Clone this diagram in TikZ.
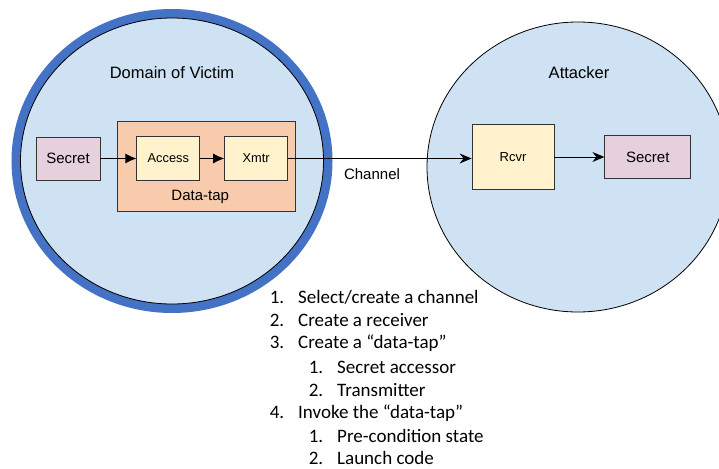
\documentclass[tikz,border=0pt]{standalone}
\usepackage{fontspec}
\setmainfont{Liberation Sans}
\newfontfamily\listfont{Carlito}
\usetikzlibrary{positioning,arrows.meta}

\definecolor{domainblue}{HTML}{CFE2F3}
\definecolor{ringblue}{HTML}{4472C4}
\definecolor{secretpink}{HTML}{E6D0DE}
\definecolor{tappeach}{HTML}{F8CBAD}
\definecolor{partyellow}{HTML}{FFF2CC}

\tikzset{
  part/.style={draw=black!80, line width=0.8pt, rectangle, inner sep=0pt},
  secretbox/.style={part, fill=secretpink, minimum width=64pt, minimum height=43pt, font=\fontsize{15}{18}\selectfont},
  unitbox/.style={part, fill=partyellow, minimum width=63pt, minimum height=44pt, font=\fontsize{12.8}{15}\selectfont},
  title/.style={font=\fontsize{16.5}{20}\selectfont},
  flow/.style={line width=0.9pt, -{Latex[length=11pt,width=10pt]}},
  link/.style={line width=0.9pt, -{Stealth[length=12pt,width=10pt,inset=4pt]}},
  listline/.style={anchor=west, inner sep=0pt, font=\listfont\fontsize{19}{23}\selectfont},
}

\begin{document}
\begin{tikzpicture}[x=1pt, y=-1pt]
  \useasboundingbox (0,0) rectangle (719,468);
  % the two parties
  \fill[domainblue] (172,161) ellipse [x radius=155.5, y radius=147.5];
  \draw[ringblue, line width=9pt] (172,161) ellipse [x radius=156, y radius=147.5];
  \draw[black, line width=0.8pt] (172,161) ellipse [x radius=151.5, y radius=143];
  \draw[fill=domainblue, line width=0.8pt] (578,167) ellipse [x radius=151, y radius=145];
  \node[title] (victim) at (172,73) {Domain of Victim};
  \node[title] (attacker) at (579,73) {Attacker};
  % victim side
  \node[secretbox] (secretV) at (68,158.5) {Secret};
  \node[part, fill=tappeach, minimum width=178pt, minimum height=90pt] (tap) at (206,166) {};
  \node[unitbox, right=36pt of secretV] (access) {Access};
  \node[unitbox, right=24pt of access] (xmtr) {Xmtr};
  \node[font=\fontsize{15}{18}\selectfont, below=6pt of access.south east] (taplabel) {Data-tap};
  % attacker side
  \node[unitbox, minimum width=82pt, minimum height=65pt, font=\fontsize{13}{15}\selectfont] (rcvr) at (513,157) {Rcvr};
  \node[secretbox, minimum width=86pt, right=50pt of rcvr] (secretA) {Secret};
  \node[font=\fontsize{15}{18}\selectfont] (channel) at (372,174) {Channel};
  \draw[flow] (secretV) -- (access);
  \draw[flow] (access) -- (xmtr);
  \draw[link] (xmtr.east) -- (xmtr.east -| rcvr.west);
  \draw[link] (rcvr) -- (secretA);
  % steps
  \node[listline] (s1) at (298,297) {\llap{1.\hspace{14pt}}Select/create a channel};
  \node[listline] (s2) at (298,320) {\llap{2.\hspace{14pt}}Create a receiver};
  \node[listline] (s3) at (298,343) {\llap{3.\hspace{14pt}}Create a “data-tap”};
  \node[listline] (s31) at (337,367) {\llap{1.\hspace{14pt}}Secret accessor};
  \node[listline] (s32) at (337,390) {\llap{2.\hspace{14pt}}Transmitter};
  \node[listline] (s4) at (298,413) {\llap{4.\hspace{14pt}}Invoke the “data-tap”};
  \node[listline] (s41) at (337,436) {\llap{1.\hspace{14pt}}Pre-condition state};
  \node[listline] (s42) at (337,458) {\llap{2.\hspace{14pt}}Launch code};
\end{tikzpicture}
\end{document}
